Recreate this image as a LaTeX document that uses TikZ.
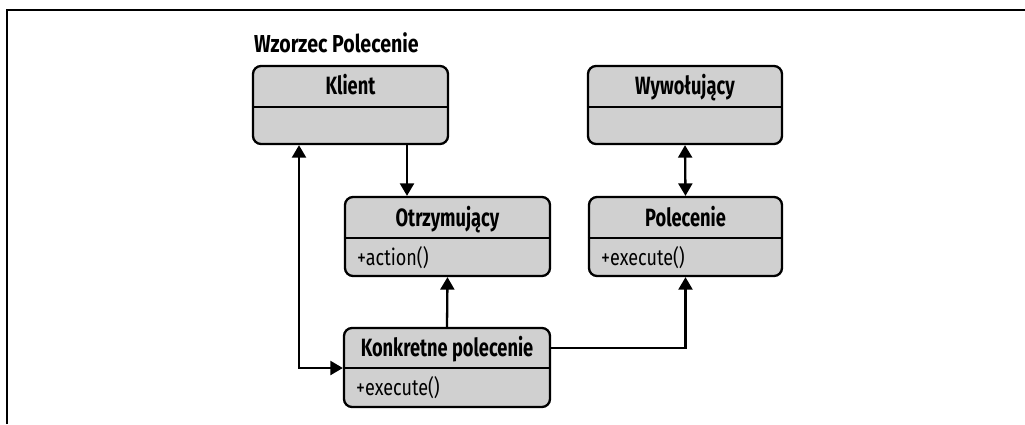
\documentclass[tikz,border=0pt]{standalone}
\usepackage{fontspec}
\setmainfont{Fira Sans}[FakeStretch=0.80]
\newfontfamily\hdrfont{Fira Sans}[FakeStretch=0.73]
\usetikzlibrary{arrows.meta}
\definecolor{boxgray}{HTML}{D0D0D0}
\tikzset{
  cls/.style={draw, line width=2.3pt, rounded corners=8pt, fill=boxgray, inner sep=0pt},
  hdr/.style={font=\hdrfont\bfseries\fontsize{25}{29}\selectfont, inner sep=0pt, anchor=base},
  mem/.style={font=\fontsize{22.5}{27}\selectfont, anchor=base west, inner sep=0pt},
  divider/.style={line width=2pt},
  conn/.style={line width=2.3pt},
  tipend/.style={-{Triangle[length=12.5pt,width=14pt]}},
  tipboth/.style={{Triangle[length=12.5pt,width=14pt]}-{Triangle[length=12.5pt,width=14pt]}}
}
\begin{document}
\begin{tikzpicture}[x=1pt,y=-1pt]
\useasboundingbox (0,0) rectangle (1025,424);
\draw[line width=2.5pt] (7,424) -- (7,10) -- (1025,10);

\node[anchor=base west, font=\bfseries\fontsize{24.5}{29}\selectfont, inner sep=0pt] (title) at (254,52) {Wzorzec Polecenie};

% Klient
\node[cls, minimum width=195pt, minimum height=78pt] (klient) at (350.5,105) {};
\coordinate (kdiv) at (0,107);
\draw[divider] (klient.west |- kdiv) -- (klient.east |- kdiv);
\node[hdr] (klientT) at (350.5,94) {Klient};

% Wywolujacy
\node[cls, minimum width=194pt, minimum height=78pt] (wyw) at (685,105) {};
\draw[divider] (wyw.west |- kdiv) -- (wyw.east |- kdiv);
\node[hdr] (wywT) at (685,94) {Wywołujący};

% Otrzymujacy
\node[cls, minimum width=205pt, minimum height=79pt] (otrz) at (447.5,236.5) {};
\coordinate (odiv) at (0,238);
\draw[divider] (otrz.west |- odiv) -- (otrz.east |- odiv);
\node[hdr] (otrzT) at (447.5,226) {Otrzymujący};
\node[mem] (otrzM) at (357,265.5) {+action()};

% Polecenie
\node[cls, minimum width=193pt, minimum height=79pt] (pol) at (685.5,236.5) {};
\draw[divider] (pol.west |- odiv) -- (pol.east |- odiv);
\node[hdr] (polT) at (685.5,226) {Polecenie};
\node[mem] (polM) at (601,265.5) {+execute()};

% Konkretne polecenie
\node[cls, minimum width=206pt, minimum height=79pt] (konk) at (447,367.5) {};
\coordinate (kkdiv) at (0,368);
\draw[divider] (konk.west |- kkdiv) -- (konk.east |- kkdiv);
\node[hdr] (konkT) at (447,356) {Konkretne polecenie};
\node[mem] (konkM) at (356,395.5) {+execute()};

% connectors
\coordinate (xa) at (407,0);
\coordinate (xb) at (299,0);
\coordinate (yh) at (0,348);
\draw[conn, tipend] (klient.south -| xa) -- (otrz.north -| xa);
\draw[conn, tipboth] (wyw.south) -- (pol.north);
\draw[conn, tipend] (konk.north) -- (otrz.south);
\draw[conn, tipboth] (klient.south -| xb) |- (konk.west |- kkdiv);
\draw[conn, tipend] (konk.east |- yh) -| (pol.south);
\end{tikzpicture}
\end{document}
